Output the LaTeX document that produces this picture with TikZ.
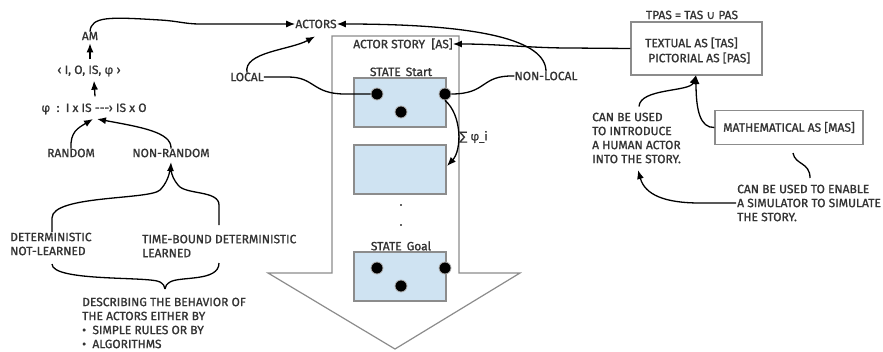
\documentclass[tikz,border=0pt]{standalone}
\usepackage{fontspec}
\setmainfont{Fira Sans}[FakeBold=1.2]
\newfontfamily\symfont{DejaVu Sans}[FakeBold=0.6]
\usetikzlibrary{arrows.meta,calc}
\definecolor{txt}{HTML}{333333}
\definecolor{edge}{HTML}{8C8C8C}
\definecolor{statefill}{HTML}{CFE3F2}
\newcommand{\usc}{{\symfont\fontsize{10}{12}\selectfont\char"5F}}

\begin{document}
\begin{tikzpicture}[x=1pt,y=-1pt,
  lbl/.style={inner sep=0pt,text=txt,font=\fontsize{12}{14}\selectfont},
  lbll/.style={lbl,align=left,anchor=west},
  conn/.style={line width=1.3pt,black},
  arr/.style={conn,-{Latex[length=9pt,width=7pt]}},
  statebox/.style={draw=edge,line width=1.2pt,fill=statefill,minimum width=92pt,minimum height=49pt,inner sep=0pt},
  dot/.style={circle,fill=black,draw=edge!70,line width=0.8pt,minimum size=12pt,inner sep=0pt},
  framebox/.style={draw=edge,line width=1.2pt,fill=white,inner sep=0pt,text=txt,font=\fontsize{12}{14}\selectfont},
]
\useasboundingbox (0,0) rectangle (883,351);

% ---------- actor story: the large downward arrow ----------
\draw[edge,line width=1.2pt,fill=white]
  (332,36) -- (459,36) -- (459,273) -- (520,273) -- (395,349) -- (268,273) -- (332,273) -- cycle;
\node[lbl] (as) at (403,44) {ACTOR STORY\ \ [AS]};

\node[lbl] (startlbl) at (401,73) {STATE\usc Start};
\node[statebox] (s1) at (400,102.5) {};
\node[statebox] (s2) at (400,169.5) {};
\node[lbl] (dotsA) at (401,205) {.};
\node[lbl] (dotsB) at (401,225) {.};
\node[lbl] (goallbl) at (401,247) {STATE\usc Goal};
\node[statebox] (s3) at (400,276.5) {};

\node[dot] (d1) at (377,94) {};
\node[dot] (d2) at (445,94) {};
\node[dot] (d3) at (401,112) {};
\node[dot] (g1) at (377,268) {};
\node[dot] (g2) at (445,268) {};
\node[dot] (g3) at (401,286) {};

\node[lbl,anchor=west] (sumphi) at (459,137) {{\symfont ∑} φ\usc i};
\coordinate (s2in) at (447,166);
\draw[arr] (d2.south) .. controls (462,115) and (462,150) .. (s2in);

% ---------- actors ----------
\node[lbl] (actors) at (316,24) {ACTORS};
\node[lbl] (local) at (247,77) {LOCAL};
\node[lbl] (nonlocal) at (546,76) {NON-LOCAL};

\draw[arr] (local.north) .. controls (243,52) and (290,50) .. ($(actors.south)+(-1,8)$);
\draw[conn] (local.east) -- (288,77) .. controls (315,77) and (312,94) .. (345,94) -- (d1);
\draw[conn] (nonlocal.west) .. controls (480,75) and (488,94) .. (d2);
\draw[arr] (nonlocal.north) .. controls (546,40) and (480,24) .. (actors.east);

% ---------- actor model ----------
\node[lbl] (am) at (90,36) {AM};
\node[lbl] (tuple) at (89,71) {‹ I, O, IS, φ ›};
\node[lbl] (phi) at (94,109) {φ\ \ :\ \ I x IS {-}{-}{-}› IS x O};
\node[lbl] (random) at (71,153) {RANDOM};
\node[lbl] (nonrandom) at (171,153) {NON-RANDOM};

\draw[arr] (am.north) .. controls (91,16) and (110,17) .. (160,20)
  .. controls (178,21) and (185,24) .. (200,24) -- (actors.west);
\draw[arr] (tuple.north) ++(1,-6) -- ($(am.south)+(0,3)$);
\draw[arr] ($(phi.north)+(1,-7)$) -- ($(tuple.south)+(5,4)$);
\coordinate (phiA) at (93,119);
\coordinate (phiB) at (97,119);
\draw[arr] (random.north) .. controls (70,132) and (78,128) .. (phiA);
\draw[arr] (nonrandom.north) .. controls (172,132) and (140,127) .. (phiB);

\node[lbll] (det) at (10,244) {DETERMINISTIC\\NOT-LEARNED};
\node[lbll] (tbd) at (142,246) {TIME-BOUND DETERMINISTIC\\LEARNED};

% upper brace into NON-RANDOM
\coordinate (braceTop) at (171,162);
\draw[conn] (52,232) -- (52,218) .. controls (52,195) and (150,200) .. (160,190)
  .. controls (166,184) and (169,176) .. (170,170);
\draw[conn] (219,225) -- (219,205) .. controls (219,190) and (185,195) .. (178,185)
  .. controls (174,180) and (172,176) .. (171,170);
\draw[arr] (170.5,172) -- (braceTop);

% lower brace towards the description
\coordinate (braceBot) at (165,289);
\draw[conn] (52,264) .. controls (52,282) and (150,276) .. (160,282) .. controls (163,284) and (165,286) .. (braceBot);
\draw[conn] (219,263) .. controls (219,282) and (180,276) .. (170,282) .. controls (167,284) and (165,286) .. (braceBot);

\node[lbll] (desc) at (82,323) {DESCRIBING THE BEHAVIOR OF\\THE ACTORS EITHER BY\\•\ \ SIMPLE RULES OR BY\\•\ \ ALGORITHMS};

% ---------- representations of the actor story ----------
\node[lbl] (tpaslbl) at (692,15) {TPAS = TAS {\symfont ∪} PAS};
\node[framebox,minimum width=131pt,minimum height=53pt] (tpas) at (696.5,48.5) {};
\node[lbll] (tas) at (645,43) {TEXTUAL AS [TAS]};
\node[lbll] (pas) at (648,58) {PICTORIAL AS [PAS]};
\node[framebox,minimum width=148pt,minimum height=34pt] (mas) at (789,127.5) {MATHEMATICAL AS [MAS]};

\draw[arr] (tpas.west) -- (570,48) .. controls (530,48) and (500,44) .. (as.east);

\node[lbll] (human) at (592,138) {CAN BE USED\\TO INTRODUCE\\A HUMAN ACTOR\\INTO THE STORY.};
\node[lbll] (sim) at (737,203) {CAN BE USED TO ENABLE\\A SIMULATOR TO SIMULATE\\THE STORY.};

\coordinate (tpasIn) at (696,75);
\draw[arr] ($(human.north west)+(47,-6)$) .. controls (640,88) and (690,92) .. (tpasIn);
\draw[arr] (mas.west) .. controls (700,128) and (696,110) .. (tpasIn);
\draw[conn] (793,153) .. controls (795,165) and (810,162) .. (810,178);
\coordinate (humanIn) at (638,170);
\draw[arr] ($(sim.west)+(-1,0)$) -- (700,203) .. controls (665,203) and (645,195) .. (humanIn);
\end{tikzpicture}
\end{document}
